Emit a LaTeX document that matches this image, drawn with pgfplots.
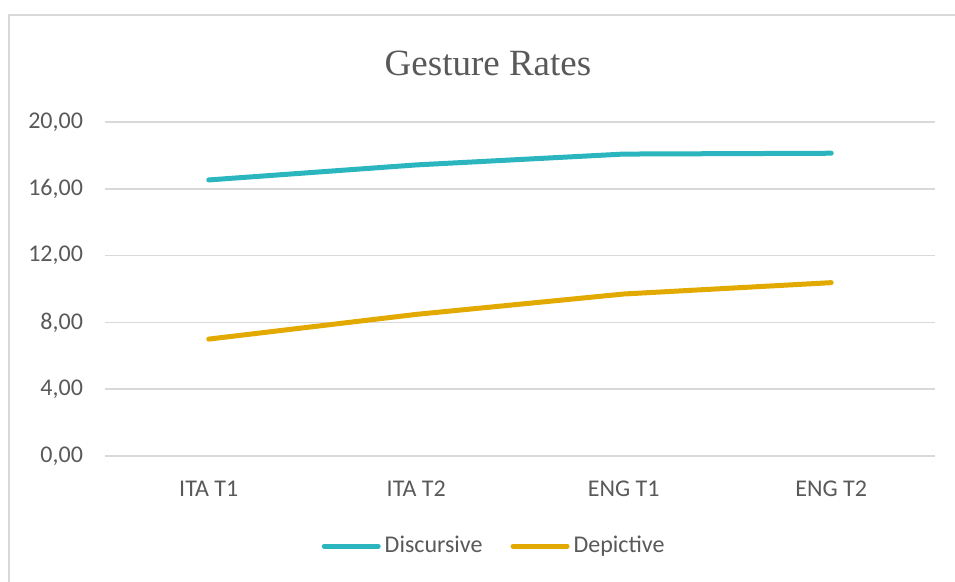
\documentclass[border=0pt]{standalone}
\usepackage{pgfplots}
\pgfplotsset{compat=1.18}
\usepackage{fontspec}
\setmainfont{Carlito}
\newfontfamily\titlefont{Liberation Serif}
\definecolor{disc}{RGB}{43,181,190}
\definecolor{depi}{RGB}{226,170,0}
\definecolor{gridc}{RGB}{217,217,217}
\definecolor{txt}{RGB}{89,89,89}
\begin{document}
\begin{tikzpicture}
\useasboundingbox (0,0) rectangle (477.5pt,-291pt);
\draw[gridc, line width=0.75pt] (4.5pt,-295pt) -- (4.5pt,-7.5pt) -- (480pt,-7.5pt);
\node[font=\titlefont\fontsize{18.5}{20}\selectfont, text=txt] at (244pt,-31.5pt) {Gesture Rates};
\begin{axis}[
  at={(52.5pt,-228pt)}, anchor=south west,
  scale only axis, width=415pt, height=167pt,
  xmin=-0.5, xmax=3.5, ymin=0, ymax=20,
  xtick={0,1,2,3}, xticklabels={ITA T1, ITA T2, ENG T1, ENG T2},
  ytick={0,4,8,12,16,20},
  axis line style={draw=none}, tick style={draw=none},
  ymajorgrids, grid style={gridc, line width=0.75pt},
  ticklabel style={font=\fontsize{12}{14}\selectfont, text=txt},
  /pgf/number format/.cd, fixed, fixed zerofill, precision=2, use comma, assume math mode=true,
  /pgfplots/.cd,
  yticklabel style={xshift=-7.5pt},
  xticklabel style={yshift=-9pt},
  legend columns=2,
  legend style={at={(0.47,-0.27)}, anchor=center, draw=none, fill=none,
    font=\fontsize{12}{14}\selectfont, text=txt,
    /tikz/every even column/.append style={column sep=12pt},
    inner sep=0pt},
  legend image code/.code={\draw[#1, line cap=round] (0pt,0pt) -- (27pt,0pt);},
]
\addplot[disc, line width=2.5pt, line cap=round, line join=round] coordinates {(0,16.53) (1,17.43) (2,18.08) (3,18.13)};
\addlegendentry{Discursive}
\addplot[depi, line width=2.5pt, line cap=round, line join=round] coordinates {(0,7.0) (1,8.48) (2,9.7) (3,10.38)};
\addlegendentry{Depictive}
\end{axis}
\end{tikzpicture}
\end{document}
